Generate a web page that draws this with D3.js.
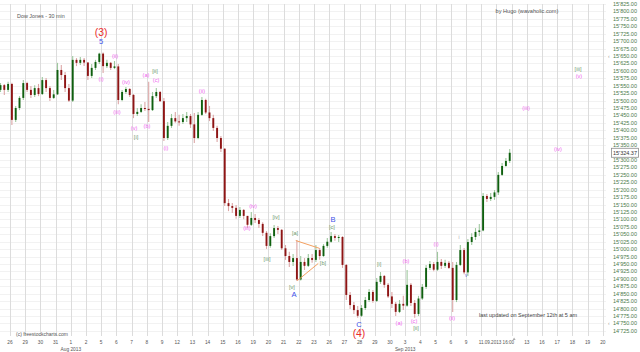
<!DOCTYPE html>
<html>
<head>
<meta charset="utf-8">
<script src="https://cdnjs.cloudflare.com/ajax/libs/d3/7.8.5/d3.min.js"></script>
<style>
    body { margin: 0; background: #fff; }
    #chart-area { width: 640px; height: 352px; }
    text { font-family: "Liberation Sans", Arial, sans-serif; }
</style>
</head>
<body>
<div id="chart-area"></div>
<script>

// trading days shown on the x axis (Jul 26 .. Sep 20 2013)
let dayLabels = ["26", "29", "30", "31", "1", "2", "5", "6", "7", "8", "9", "12", "13", "14", "15", "16",
    "19", "20", "21", "22", "23", "26", "27", "28", "29", "30", "3", "4", "5", "6", "9", "10", "11", "12",
    "13", "16", "17", "18", "19", "20"];
let monthLabels = [{day: 4, text: "Aug 2013"}, {day: 26, text: "Sep 2013"}];
let hiddenDays = [31, 32, 33];   // covered by the time label
let cursorLabel = "11.09.2013 16:00";
let cursorDay = 32;

// bars: 4 per day, starting with Jul 25 (day -1)
let firstDay = -1;
let barsPerDay = 4;
let firstOpen = 15529;
let closes = [
    15536, 15552, 15536, 15556,
    15435, 15475, 15509, 15559,
    15536, 15519, 15542, 15522,
    15569, 15542, 15509, 15521,
    15603, 15586, 15542, 15500,
    15637, 15627, 15637, 15628,
    15583, 15610, 15630, 15658,
    15616, 15627, 15610, 15615,
    15502, 15529, 15539, 15519,
    15455, 15462, 15475, 15472,
    15468, 15515, 15529, 15498,
    15374, 15415, 15441, 15430,
    15428, 15441, 15448, 15420,
    15374, 15452, 15502, 15460,
    15441, 15408, 15374, 15338,
    15155, 15145, 15139, 15112,
    15132, 15112, 15082, 15105,
    15098, 15085, 15055, 15011,
    15044, 15071, 15065, 15003,
    14977, 14957, 14970, 14898,
    14957, 14944, 14970, 14964,
    14997, 14977, 15011, 15025,
    15044, 15038, 15041, 14947,
    14846, 14812, 14795, 14776,
    14802, 14829, 14856, 14826,
    14890, 14910, 14880, 14841,
    14816, 14789, 14816, 14810,
    14880, 14819, 14782, 14834,
    14873, 14937, 14950, 14931,
    14957, 14944, 14954, 14937,
    14829, 14947, 14997, 14922,
    15024, 15041, 15058, 15063,
    15179, 15169, 15176, 15191,
    15250, 15280, 15297, 15324.37
];
let highs = [
    15549, 15559, 15556, 15563,
    15560, 15482, 15515, 15569,
    15563, 15549, 15552, 15556,
    15579, 15576, 15549, 15536,
    15627, 15620, 15596, 15556,
    15650, 15643, 15647, 15643,
    15630, 15623, 15637, 15661,
    15662, 15637, 15630, 15633,
    15623, 15536, 15546, 15542,
    15522, 15475, 15488, 15495,
    15563, 15529, 15542, 15532,
    15509, 15428, 15455, 15462,
    15452, 15455, 15462, 15455,
    15458, 15462, 15512, 15506,
    15482, 15452, 15415, 15381,
    15340, 15169, 15155, 15149,
    15142, 15135, 15112, 15125,
    15118, 15105, 15091, 15061,
    15054, 15081, 15078, 15068,
    15014, 14991, 14984, 15031,
    14977, 14970, 14984, 14984,
    15014, 15004, 15017, 15038,
    15058, 15051, 15048, 15044,
    14950, 14856, 14822, 14809,
    14812, 14839, 14866, 14863,
    14903, 14923, 14913, 14886,
    14856, 14822, 14829, 14843,
    14930, 14886, 14829, 14843,
    14883, 14947, 14960, 14957,
    14991, 14967, 14964, 14960,
    14957, 14957, 15014, 15004,
    15034, 15054, 15071, 15085,
    15189, 15186, 15189, 15199,
    15260, 15290, 15307, 15337
];
let lows = [
    15519, 15529, 15519, 15529,
    15418, 15428, 15468, 15502,
    15529, 15509, 15512, 15515,
    15519, 15529, 15499, 15505,
    15519, 15569, 15529, 15495,
    15495, 15616, 15620, 15616,
    15569, 15576, 15603, 15623,
    15593, 15610, 15603, 15606,
    15488, 15498, 15522, 15512,
    15441, 15448, 15458, 15465,
    15428, 15465, 15509, 15495,
    15364, 15367, 15408, 15425,
    15415, 15421, 15428, 15408,
    15357, 15370, 15448, 15455,
    15431, 15398, 15361, 15327,
    15145, 15128, 15122, 15102,
    15105, 15101, 15071, 15078,
    15088, 15071, 15044, 15001,
    15005, 15038, 15051, 14997,
    14964, 14940, 14943, 14893,
    14895, 14930, 14940, 14954,
    14957, 14964, 14974, 15005,
    15022, 15028, 15024, 14937,
    14829, 14799, 14782, 14769,
    14772, 14795, 14822, 14820,
    14822, 14883, 14870, 14836,
    14802, 14775, 14785, 14795,
    14806, 14809, 14769, 14775,
    14829, 14866, 14930, 14926,
    14927, 14933, 14937, 14933,
    14789, 14822, 14943, 14916,
    14910, 15014, 15031, 15044,
    15060, 15159, 15162, 15166,
    15182, 15246, 15277, 15290
];

let yTicks = d3.range(14725, 15826, 25);
let markerPrices = [15650, 14750];

// Elliott wave counts: text, day position, price level, style
let waveTexts = ["(3)", "5", "(i)", "(ii)", "(iii)", "(iv)", "(v)", "[i]", "(a)", "[ii]", "(c)", "(b)", "(i)",
    "(ii)", "(iii)", "(iv)", "[iii]", "[iv]", "[a]", "[v]", "A", "[b]", "[c]", "B", "C", "(4)", "[i]",
    "(a)", "(b)", "(c)", "[ii]", "(i)", "(ii)", "(iii)", "(iv)", "[iii]", "(v)", "i", "v"];
let waveDays = [5.99, 5.99, 5.99, 6.91, 7.04, 7.63, 8.16, 8.29, 8.95, 9.54, 9.61, 9.01, 10.26,
    12.63, 15.59, 15.99, 16.91, 17.5, 18.75, 18.55, 18.68, 20.59, 21.18, 21.25, 22.96, 22.96, 24.28,
    25.59, 26.05, 26.58, 26.71, 28.03, 29.08, 33.95, 36.05, 37.37, 37.43, 29.54, 30.0];
let wavePrices = [15731, 15700, 15573, 15650, 15462, 15563, 15408, 15378, 15586, 15600, 15569, 15415, 15341,
    15532, 15071, 15145, 14967, 15108, 15055, 14873, 14849, 14954, 15075, 15102, 14748, 14716, 14950,
    14752, 14960, 14758, 14735, 15018, 14768, 15475, 15337, 15606, 15583, 15038, 14910];
let waveKinds = ["red", "blue", "pink", "pink", "pink", "pink", "pink", "minor", "pink", "minor", "pink", "pink", "pink",
    "pink", "pink", "pink", "minor", "minor", "minor", "minor", "blue", "minor", "minor", "blue", "blue", "red", "minor",
    "pink", "pink", "pink", "minor", "pink", "pink", "pink", "pink", "minor", "pink", "tiny", "tinyblue"];

// triangle of wave B
let triangleLines = [
    [{day: 18.8, price: 15029}, {day: 20.35, price: 15003}],
    [{day: 18.9, price: 14894}, {day: 20.28, price: 14952}]
];


class CandleVis {

    constructor(parentElement) {
        this.parentElement = parentElement;
        this.initVis();
    }

    /*
     * Initialize visualization (svg, scales, static text)
     */
    initVis() {
        let vis = this;

        vis.width = 640;
        vis.height = 352;
        vis.plotRight = 606;
        vis.plotTop = 4;
        vis.plotBottom = 336;

        vis.svg = d3.select("#" + vis.parentElement).append("svg")
            .attr("width", vis.width)
            .attr("height", vis.height);

        vis.xScale = d3.scaleLinear()
            .domain([0, dayLabels.length - 1])
            .range([10, 602.8]);

        vis.yScale = d3.scaleLinear()
            .domain([14725, 15825])
            .range([330.9, 4]);

        vis.svg.append("clipPath")
            .attr("id", "plot-clip")
            .append("rect")
            .attr("x", 0)
            .attr("y", 0)
            .attr("width", vis.plotRight)
            .attr("height", vis.plotBottom);

        vis.colors = {
            pink: "#ee62ee", minor: "#6f9a6f", blue: "#4252ea", red: "#ea2c2c",
            tiny: "#a0a0a0", tinyblue: "#5a6ae0"
        };
        vis.sizes = {pink: 5.6, minor: 5.6, blue: 7.6, red: 10.4, tiny: 4.5, tinyblue: 4.5};

        vis.wrangleData();
    }

    /*
     * Data wrangling: build OHLC bars
     */
    wrangleData() {
        let vis = this;

        vis.bars = [];
        let open = firstOpen;
        closes.forEach((c, i) => {
            vis.bars.push({
                t: firstDay + (i + 0.5) / barsPerDay,
                open: open,
                close: c,
                high: Math.max(highs[i], open, c),
                low: Math.min(lows[i], open, c)
            });
            open = c;
        });

        vis.updateVis();
    }

    /*
     * The drawing function
     */
    updateVis() {
        let vis = this;
        let fmt = v => d3.format(",.2f")(v).replace(/,/g, "'");

        // horizontal grid
        vis.svg.append("g").selectAll("line")
            .data(yTicks)
            .enter().append("line")
            .attr("x1", 0)
            .attr("x2", vis.plotRight)
            .attr("y1", d => Math.round(vis.yScale(d)) + 0.5)
            .attr("y2", d => Math.round(vis.yScale(d)) + 0.5)
            .attr("stroke", "#f2f2f2");

        // vertical grid, one per day
        vis.svg.append("g").selectAll("line")
            .data(dayLabels)
            .enter().append("line")
            .attr("x1", (d, i) => Math.round(vis.xScale(i)) + 0.5)
            .attr("x2", (d, i) => Math.round(vis.xScale(i)) + 0.5)
            .attr("y1", vis.plotTop)
            .attr("y2", vis.plotBottom)
            .attr("stroke", "#dcdcdc");

        // candles
        let bw = (vis.xScale(1) - vis.xScale(0)) / barsPerDay;
        let candles = vis.svg.append("g")
            .attr("clip-path", "url(#plot-clip)")
            .selectAll("g")
            .data(vis.bars)
            .enter().append("g");

        candles.append("line")
            .attr("x1", d => vis.xScale(d.t))
            .attr("x2", d => vis.xScale(d.t))
            .attr("y1", d => vis.yScale(d.high))
            .attr("y2", d => vis.yScale(d.low))
            .attr("stroke", d => d.close >= d.open ? "#9ec89e" : "#dca6a6")
            .attr("stroke-width", 1.1);

        candles.append("rect")
            .attr("x", d => vis.xScale(d.t) - bw * 0.25)
            .attr("width", bw * 0.5)
            .attr("y", d => vis.yScale(Math.max(d.open, d.close)))
            .attr("height", d => Math.max(1, Math.abs(vis.yScale(d.open) - vis.yScale(d.close))))
            .attr("fill", d => d.close >= d.open ? "#0f5f0f" : "#8e1515");

        // B triangle
        vis.svg.append("g").selectAll("line")
            .data(triangleLines)
            .enter().append("line")
            .attr("x1", d => vis.xScale(d[0].day))
            .attr("y1", d => vis.yScale(d[0].price))
            .attr("x2", d => vis.xScale(d[1].day))
            .attr("y2", d => vis.yScale(d[1].price))
            .attr("stroke", "#f4a060")
            .attr("stroke-width", 1);

        // wave labels
        vis.svg.append("g").selectAll("text")
            .data(waveTexts)
            .enter().append("text")
            .attr("x", (d, i) => vis.xScale(waveDays[i]))
            .attr("y", (d, i) => vis.yScale(wavePrices[i]))
            .attr("dy", "0.35em")
            .attr("text-anchor", "middle")
            .attr("font-size", (d, i) => vis.sizes[waveKinds[i]])
            .attr("fill", (d, i) => vis.colors[waveKinds[i]])
            .text(d => d);

        // y axis labels
        vis.svg.append("g").selectAll("text")
            .data(yTicks)
            .enter().append("text")
            .attr("x", 613)
            .attr("y", d => vis.yScale(d))
            .attr("dy", "0.35em")
            .attr("font-size", 5.5)
            .attr("fill", "#4b7a4b")
            .text(d => fmt(d));

        vis.svg.append("g").selectAll("text")
            .data(markerPrices)
            .enter().append("text")
            .attr("x", 608)
            .attr("y", d => vis.yScale(d))
            .attr("dy", "0.35em")
            .attr("font-size", 5)
            .attr("fill", "#999")
            .text("\u2039");

        // last price box
        let last = vis.bars[vis.bars.length - 1].close;
        vis.svg.append("rect")
            .attr("x", 611.5)
            .attr("y", vis.yScale(last) - 4.5)
            .attr("width", 27)
            .attr("height", 9)
            .attr("fill", "#fff")
            .attr("stroke", "#8a8a8a")
            .attr("stroke-width", 0.8);
        vis.svg.append("text")
            .attr("x", 613)
            .attr("y", vis.yScale(last))
            .attr("dy", "0.35em")
            .attr("font-size", 5.5)
            .attr("fill", "#333")
            .text(fmt(last));

        // x axis day labels
        vis.svg.append("g").selectAll("text")
            .data(dayLabels.map((d, i) => ({label: d, i: i})).filter(d => !hiddenDays.includes(d.i)))
            .enter().append("text")
            .attr("x", d => vis.xScale(d.i))
            .attr("y", 343.5)
            .attr("text-anchor", "middle")
            .attr("font-size", 4.8)
            .attr("fill", "#555")
            .text(d => d.label);

        vis.svg.append("g").selectAll("text")
            .data(monthLabels)
            .enter().append("text")
            .attr("x", d => vis.xScale(d.day))
            .attr("y", 351)
            .attr("text-anchor", "middle")
            .attr("font-size", 4.8)
            .attr("fill", "#555")
            .text(d => d.text);

        vis.svg.append("text")
            .attr("x", vis.xScale(cursorDay))
            .attr("y", 343.5)
            .attr("text-anchor", "middle")
            .attr("font-size", 4.6)
            .attr("fill", "#555")
            .text(cursorLabel);

        let mx = vis.xScale(cursorDay + 1) + 2.5;
        vis.svg.append("path")
            .attr("d", `M${mx - 1.5},340 L${mx},337.5 L${mx + 1.5},340 Z`)
            .attr("fill", "#aaa");

        // captions
        vis.svg.append("text")
            .attr("x", 17).attr("y", 18)
            .attr("font-size", 5.4).attr("fill", "#555")
            .text("Dow Jones - 30 min");
        vis.svg.append("text")
            .attr("x", 527).attr("y", 13)
            .attr("text-anchor", "middle")
            .attr("font-size", 5.6).attr("fill", "#555")
            .text("by Hugo (wavaholic.com)");
        vis.svg.append("text")
            .attr("x", 528).attr("y", 317)
            .attr("text-anchor", "middle")
            .attr("font-size", 5.5).attr("fill", "#444")
            .text("last updated on September 12th at 5 am");
        vis.svg.append("text")
            .attr("x", 16).attr("y", 336)
            .attr("font-size", 5).attr("fill", "#555")
            .text("(c) freestockcharts.com");
    }
}

let candleVis = new CandleVis("chart-area");

</script>
</body>
</html>
